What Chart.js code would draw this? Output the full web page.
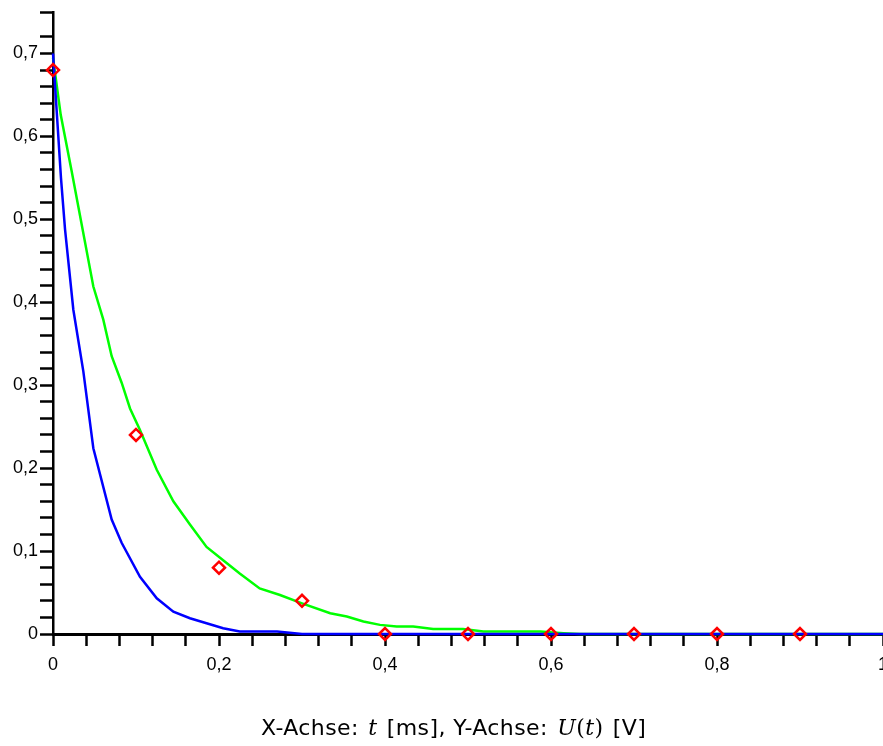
<!DOCTYPE html>
<html lang="de">
<head>
<meta charset="UTF-8">
<title>U(t)</title>
<script src="https://cdn.jsdelivr.net/npm/chart.js"></script>
<style>
  body { margin: 0; background: #fff; }
  #wrap { position: relative; width: 883px; height: 746px; }
  canvas { display: block; }
  #caption {
    position: absolute; left: 261px; top: 715px; letter-spacing: 0.4px;
    font: 22px "DejaVu Sans", sans-serif; color: #000; white-space: nowrap;
  }
  #caption .m { font-family: "DejaVu Serif", serif; margin: 0 2px; }
</style>
</head>
<body>
<div id="wrap">
  <canvas id="chart" width="883" height="746"></canvas>
  <div id="caption">X-Achse: <span class="m"><i>t</i></span> [ms], Y-Achse: <span class="m"><i>U</i>(<i>t</i>)</span> [V]</div>
</div>
<script>
// gemessene Punkte (rot)
const measT = [0, 0.1, 0.2, 0.3, 0.4, 0.5, 0.6, 0.7, 0.8, 0.9]
const measU = [0.68, 0.24, 0.08, 0.04, 0, 0, 0, 0, 0, 0]

// blaue Kurve
const blueT = [0, 0.0096, 0.0145, 0.0245, 0.0365, 0.0486, 0.0707, 0.0827, 0.1048, 0.125,
  0.145, 0.165, 0.185, 0.205, 0.225, 0.27, 0.3, 1.0]
const blueU = [0.70, 0.55, 0.488, 0.391, 0.317, 0.224, 0.138, 0.110, 0.069, 0.043,
  0.027, 0.019, 0.013, 0.007, 0.003, 0.003, 0, 0]

// grüne Kurve
const greenT = [0, 0.0093, 0.0225, 0.0486, 0.0606, 0.0707, 0.0827, 0.0928, 0.1048, 0.125,
  0.145, 0.165, 0.185, 0.205, 0.225, 0.249, 0.2735, 0.3, 0.334, 0.354,
  0.374, 0.394, 0.414, 0.434, 0.458, 0.494, 0.5185, 0.587, 0.615, 0.635, 1.0]
const greenU = [0.695, 0.626, 0.558, 0.419, 0.379, 0.335, 0.303, 0.272, 0.246, 0.198,
  0.160, 0.132, 0.105, 0.089, 0.073, 0.055, 0.047, 0.037, 0.025, 0.021,
  0.015, 0.011, 0.009, 0.009, 0.006, 0.006, 0.003, 0.003, 0.001, 0, 0]

const xy = (xs, ys) => xs.map((x, i) => ({ x, y: ys[i] }))
const komma = (v) => String(v).replace('.', ',')

const tickFont = { family: '"Liberation Sans", Arial, sans-serif', size: 18 }

new Chart(document.getElementById('chart'), {
  type: 'line',
  data: {
    datasets: [
      {
        data: xy(measT, measU),
        showLine: false,
        pointStyle: 'rectRot',
        pointRadius: 6,
        borderColor: '#ff0000',
        backgroundColor: 'rgba(0,0,0,0)',
        pointBorderWidth: 2.5,
        clip: false,
      },
      {
        data: xy(blueT, blueU),
        borderColor: '#0000ff',
        borderWidth: 2.5,
        pointRadius: 0,
        tension: 0,
        clip: false,
      },
      {
        data: xy(greenT, greenU),
        borderColor: '#00ff00',
        borderWidth: 2.5,
        pointRadius: 0,
        tension: 0,
        clip: false,
      },
    ],
  },
  options: {
    responsive: false,
    animation: false,
    layout: { autoPadding: false, padding: { top: 12, right: 0, left: 0, bottom: 0 } },
    plugins: { legend: { display: false }, tooltip: { enabled: false } },
    scales: {
      x: {
        type: 'linear',
        min: 0,
        max: 1,
        z: 1,
        border: { display: true, color: '#000', width: 3 },
        grid: { drawOnChartArea: false, drawTicks: true, tickLength: 12, tickColor: '#000', tickWidth: 2.5 },
        ticks: {
          stepSize: 0.04,
          autoSkip: false,
          maxRotation: 0,
          padding: 8,
          color: '#000',
          font: tickFont,
          callback: (v) => (Math.round(v * 100) % 20 === 0 ? komma(Math.round(v * 10) / 10) : ''),
        },
        afterFit: (s) => { s.height = 112; s.paddingLeft = 0; s.paddingRight = 0 },
      },
      y: {
        type: 'linear',
        min: 0,
        max: 0.75,
        border: { display: true, color: '#000', width: 2.5 },
        grid: { drawOnChartArea: false, drawTicks: true, tickLength: 13, tickColor: '#000', tickWidth: 2.5 },
        ticks: {
          stepSize: 0.02,
          autoSkip: false,
          padding: 2,
          color: '#000',
          font: tickFont,
          callback: (v) => {
            const r = Math.round(v * 100)
            return r % 10 === 0 ? komma(r / 100) : ''
          },
        },
        afterFit: (s) => { s.width = 53; s.paddingTop = 0; s.paddingBottom = 0 },
      },
    },
  },
})
</script>
</body>
</html>
